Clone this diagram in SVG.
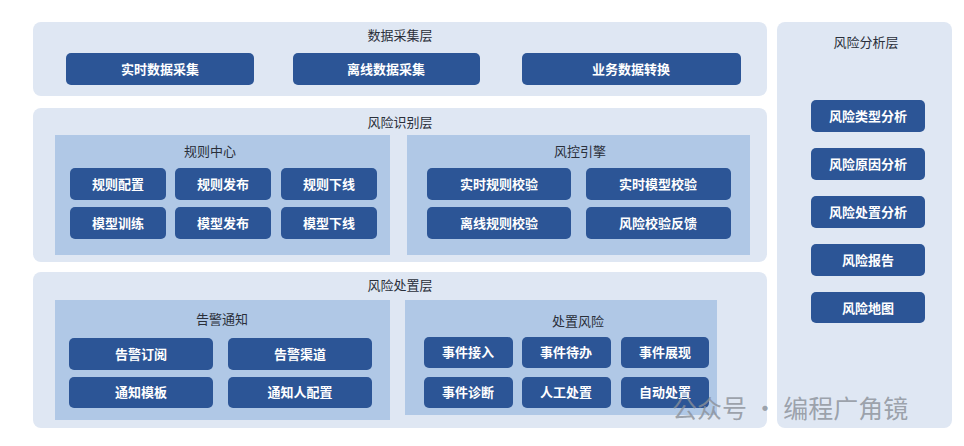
<svg xmlns="http://www.w3.org/2000/svg" width="964" height="446" viewBox="0 0 964 446">
<style>
.o{fill:#dfe7f3}
.i{fill:#b0c8e6}
.b{fill:#2c5596}
.t{font-family:"Noto Sans CJK SC","Noto Sans",sans-serif;font-size:13px;fill:#2a2f3a;text-anchor:middle}
.w{font-family:"Noto Sans CJK SC","Noto Sans",sans-serif;font-size:13px;fill:#fff;text-anchor:middle;font-weight:bold}
</style>
<rect width="964" height="446" fill="#fff"/>
<g id="collect">
<rect class="o" x="33" y="22" width="734" height="74" rx="8"/>
<text class="t" x="400" y="40">数据采集层</text>
<rect class="b" x="66" y="53" width="188" height="32" rx="5"/><text class="w" x="160" y="74">实时数据采集</text>
<rect class="b" x="293" y="53" width="187" height="32" rx="5"/><text class="w" x="386" y="74">离线数据采集</text>
<rect class="b" x="522" y="53" width="219" height="32" rx="5"/><text class="w" x="631" y="74">业务数据转换</text>
</g>
<g id="identify">
<rect class="o" x="33" y="108" width="734" height="154" rx="8"/>
<text class="t" x="400" y="127">风险识别层</text>
<rect class="i" x="55" y="135" width="335" height="120"/>
<text class="t" x="210" y="156">规则中心</text>
<rect class="b" x="70" y="168" width="96" height="32" rx="5"/><text class="w" x="118" y="189">规则配置</text>
<rect class="b" x="175" y="168" width="96" height="32" rx="5"/><text class="w" x="223" y="189">规则发布</text>
<rect class="b" x="281" y="168" width="96" height="32" rx="5"/><text class="w" x="329" y="189">规则下线</text>
<rect class="b" x="70" y="207" width="96" height="32" rx="5"/><text class="w" x="118" y="228">模型训练</text>
<rect class="b" x="175" y="207" width="96" height="32" rx="5"/><text class="w" x="223" y="228">模型发布</text>
<rect class="b" x="281" y="207" width="96" height="32" rx="5"/><text class="w" x="329" y="228">模型下线</text>
<rect class="i" x="407" y="135" width="343" height="120"/>
<text class="t" x="580" y="156">风控引擎</text>
<rect class="b" x="427" y="168" width="144" height="32" rx="5"/><text class="w" x="499" y="189">实时规则校验</text>
<rect class="b" x="586" y="168" width="145" height="32" rx="5"/><text class="w" x="658" y="189">实时模型校验</text>
<rect class="b" x="427" y="207" width="144" height="32" rx="5"/><text class="w" x="499" y="228">离线规则校验</text>
<rect class="b" x="586" y="207" width="145" height="32" rx="5"/><text class="w" x="658" y="228">风险校验反馈</text>
</g>
<g id="dispose">
<rect class="o" x="33" y="272" width="734" height="156" rx="8"/>
<text class="t" x="400" y="290">风险处置层</text>
<rect class="i" x="55" y="300" width="335" height="120"/>
<text class="t" x="222" y="324">告警通知</text>
<rect class="b" x="69" y="338" width="144" height="32" rx="5"/><text class="w" x="141" y="359">告警订阅</text>
<rect class="b" x="228" y="338" width="144" height="32" rx="5"/><text class="w" x="300" y="359">告警渠道</text>
<rect class="b" x="69" y="377" width="144" height="31" rx="5"/><text class="w" x="141" y="397">通知模板</text>
<rect class="b" x="228" y="377" width="144" height="31" rx="5"/><text class="w" x="300" y="397">通知人配置</text>
<rect class="i" x="405" y="300" width="312" height="115"/>
<text class="t" x="578" y="326">处置风险</text>
<rect class="b" x="424" y="337" width="89" height="31" rx="5"/><text class="w" x="468" y="357">事件接入</text>
<rect class="b" x="522" y="337" width="89" height="31" rx="5"/><text class="w" x="566" y="357">事件待办</text>
<rect class="b" x="621" y="337" width="88" height="31" rx="5"/><text class="w" x="665" y="357">事件展现</text>
<rect class="b" x="424" y="377" width="89" height="31" rx="5"/><text class="w" x="468" y="397">事件诊断</text>
<rect class="b" x="522" y="377" width="89" height="31" rx="5"/><text class="w" x="566" y="397">人工处置</text>
<rect class="b" x="621" y="377" width="88" height="31" rx="5"/><text class="w" x="665" y="397">自动处置</text>
</g>
<g id="analysis">
<rect class="o" x="777" y="22" width="175" height="406" rx="8"/>
<text class="t" x="866" y="47">风险分析层</text>
<rect class="b" x="811" y="100" width="114" height="32" rx="5"/><text class="w" x="868" y="121">风险类型分析</text>
<rect class="b" x="811" y="148" width="114" height="32" rx="5"/><text class="w" x="868" y="169">风险原因分析</text>
<rect class="b" x="811" y="196" width="114" height="32" rx="5"/><text class="w" x="868" y="217">风险处置分析</text>
<rect class="b" x="811" y="244" width="114" height="32" rx="5"/><text class="w" x="868" y="265">风险报告</text>
<rect class="b" x="811" y="292" width="114" height="31" rx="5"/><text class="w" x="868" y="313">风险地图</text>
</g>
<g id="connectors"></g>
<text x="672" y="418" font-family="Noto Sans CJK SC,sans-serif" font-size="25" fill="#8a8f98" fill-opacity="0.8">公众号 · 编程广角镜</text>
</svg>
